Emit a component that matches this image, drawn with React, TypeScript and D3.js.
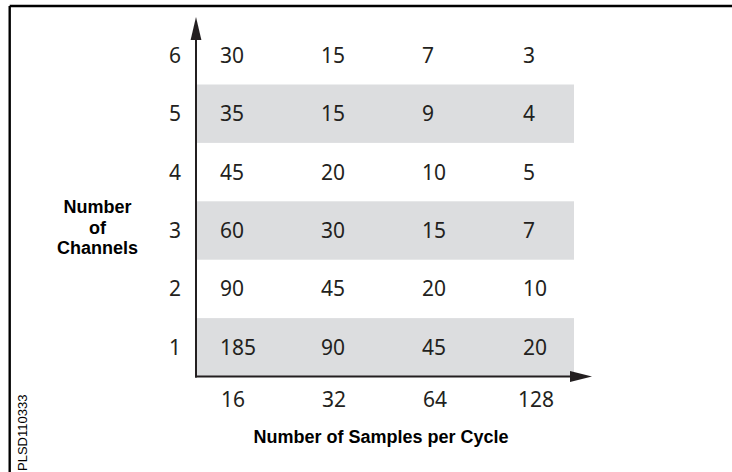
import React from "react";
import * as d3 from "d3";

const sampleCats = ["16", "32", "64", "128"];
const channelCats = ["1", "2", "3", "4", "5", "6"];
// values[row = channels-1][col = samples index]
const rowCh1 = [185, 90, 45, 20];
const rowCh2 = [90, 45, 20, 10];
const rowCh3 = [60, 30, 15, 7];
const rowCh4 = [45, 20, 10, 5];
const rowCh5 = [35, 15, 9, 4];
const rowCh6 = [30, 15, 7, 3];
const rows = [rowCh1, rowCh2, rowCh3, rowCh4, rowCh5, rowCh6];
const shadedRows = ["1", "3", "5"];
const xTitle = "Number of Samples per Cycle";
const yTitleLines = ["Number", "of", "Channels"];
const watermark = "PLSD110333";

const W = 732;
const H = 472;
const axisX = 196;
const axisY = 376.5;
const INK = "#231f20";
const BAND = "#dcdddf";
const NUM_FONT = "'Noto Sans', sans-serif";
const BOLD_FONT = "'Liberation Sans', Arial, sans-serif";

export default function App() {
  // reversed range: y(c) gives the top edge of each row's band
  const y = d3.scaleBand<string>().domain(channelCats).range([axisY, axisY - 6 * 58.4]).padding(0);
  const x = d3.scalePoint<string>().domain(sampleCats).range([220, 523]);
  const bandRight = 574;
  const cy = (c: string) => y(c)! + y.bandwidth() / 2;

  return (
    <svg width={W} height={H} style={{ position: "absolute", left: 0, top: 0, background: "#fff" }}>
      {/* frame (top and left edges visible) */}
      <line x1={9.7} y1={6} x2={W + 5} y2={6} stroke="#000" strokeWidth={2.4} />
      <line x1={9.7} y1={6} x2={9.7} y2={H + 5} stroke="#000" strokeWidth={2.4} />

      {/* shaded rows */}
      {shadedRows.map((r) => (
        <rect
          key={r}
          x={axisX}
          y={y(r)!}
          width={bandRight - axisX}
          height={y.bandwidth()}
          fill={BAND}
        />
      ))}

      {/* cell values */}
      {rows.map((vals, ri) =>
        vals.map((v, ci) => (
          <text
            key={`${ri}-${ci}`}
            x={x(sampleCats[ci])!}
            y={cy(channelCats[ri])}
            dy="0.36em"
            fontFamily={NUM_FONT}
            fontSize={21}
            fill={INK}
          >
            {v}
          </text>
        ))
      )}

      {/* row labels */}
      {channelCats.map((c) => (
        <text
          key={c}
          x={181}
          y={cy(c)}
          dy="0.36em"
          textAnchor="end"
          fontFamily={NUM_FONT}
          fontSize={21}
          fill={INK}
        >
          {c}
        </text>
      ))}

      {/* x tick labels */}
      {sampleCats.map((c) => (
        <text
          key={c}
          x={x(c)! + 13}
          y={407}
          textAnchor="middle"
          fontFamily={NUM_FONT}
          fontSize={21}
          fill={INK}
        >
          {c}
        </text>
      ))}

      {/* axes with arrows */}
      <line x1={axisX} y1={axisY + 1} x2={axisX} y2={38} stroke={INK} strokeWidth={2} />
      <path d={`M${axisX},17 L${axisX + 5.4},40 L${axisX - 5.4},40 Z`} fill={INK} />
      <line x1={axisX - 1} y1={axisY} x2={572} y2={axisY} stroke={INK} strokeWidth={2} />
      <path d={`M592,${axisY} L570,${axisY - 5.6} L570,${axisY + 5.6} Z`} fill={INK} />

      {/* axis titles */}
      <text
        x={381}
        y={443}
        textAnchor="middle"
        fontFamily={BOLD_FONT}
        fontWeight="bold"
        fontSize={18}
        fill="#000"
      >
        {xTitle}
      </text>
      {yTitleLines.map((t, i) => (
        <text
          key={t}
          x={97.5}
          y={213.3 + i * 20.4}
          textAnchor="middle"
          fontFamily={BOLD_FONT}
          fontWeight="bold"
          fontSize={18}
          fill="#000"
        >
          {t}
        </text>
      ))}

      {/* watermark */}
      <text
        transform="translate(27.3,471) rotate(-90)"
        fontFamily={BOLD_FONT}
        fontSize={13}
        fill="#000"
      >
        {watermark}
      </text>
    </svg>
  );
}
